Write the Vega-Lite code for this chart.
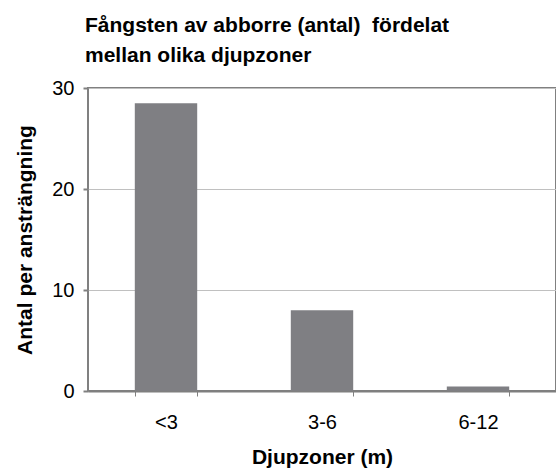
{
  "$schema": "https://vega.github.io/schema/vega-lite/v6.json",
  "width": 468,
  "height": 303,
  "autosize": {"type": "none"},
  "padding": {"left": 88, "top": 88, "right": 0, "bottom": 82},
  "background": "white",
  "title": {
    "text": ["Fångsten av abborre (antal)\u00a0 fördelat", "mellan olika djupzoner"],
    "anchor": "start",
    "frame": "group",
    "orient": "top",
    "font": "Liberation Sans",
    "fontSize": 21,
    "fontWeight": "bold",
    "color": "black",
    "lineHeight": 30,
    "baseline": "alphabetic",
    "offset": -5,
    "dx": -3
  },
  "config": {
    "view": {"stroke": "#808080", "strokeWidth": 2},
    "font": "Liberation Sans"
  },
  "data": {
    "values": [
      {"zon": "<3", "antal": 28.5},
      {"zon": "3-6", "antal": 8.0},
      {"zon": "6-12", "antal": 0.45}
    ]
  },
  "mark": {"type": "bar", "color": "#7f7f83"},
  "encoding": {
    "x": {
      "field": "zon",
      "type": "nominal",
      "sort": null,
      "scale": {"paddingInner": 0.6, "paddingOuter": 0.3},
      "axis": {
        "title": "Djupzoner (m)",
        "titleFont": "Liberation Sans",
        "titleFontSize": 21,
        "titleFontWeight": "bold",
        "titleColor": "black",
        "titlePadding": 14,
        "labelAngle": 0,
        "labelFont": "Liberation Sans",
        "labelFontSize": 20,
        "labelColor": "black",
        "labelPadding": 16,
        "tickBand": "extent",
        "tickSize": 5,
        "tickColor": "#808080",
        "tickWidth": 1,
        "domainColor": "#7f7f7f",
        "domainWidth": 2,
        "grid": false
      }
    },
    "y": {
      "field": "antal",
      "type": "quantitative",
      "scale": {"domain": [0, 30], "nice": false},
      "axis": {
        "title": "Antal per ansträngning",
        "titleFont": "Liberation Sans",
        "titleFontSize": 21,
        "titleFontWeight": "bold",
        "titleColor": "black",
        "titlePadding": 16,
        "values": [0, 10, 20, 30],
        "labelFont": "Liberation Sans",
        "labelFontSize": 20,
        "labelColor": "black",
        "labelPadding": 9,
        "tickSize": 5,
        "tickColor": "#808080",
        "tickWidth": 2,
        "domain": false,
        "grid": true,
        "gridColor": "#c0c0c0",
        "gridWidth": 1
      }
    }
  }
}
